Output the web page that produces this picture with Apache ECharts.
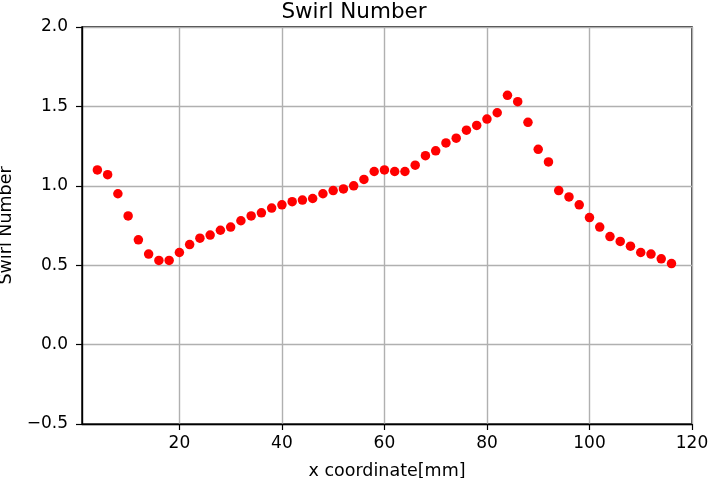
<!DOCTYPE html>
<html>
<head>
<meta charset="utf-8">
<script src="https://cdn.jsdelivr.net/npm/echarts@6/dist/echarts.min.js"></script>
<style>
html,body{margin:0;padding:0;background:#fff;}
#chart{width:708px;height:478px;}
</style>
</head>
<body>
<div id="chart"></div>
<script>
const xCoord = [4,6,8,10,12,14,16,18,20,22,24,26,28,30,32,34,36,38,40,42,44,46,48,50,52,54,56,58,60,62,64,66,68,70,72,74,76,78,80,82,84,86,88,90,92,94,96,98,100,102,104,106,108,110,112,114,116];
const swirl = [1.10,1.07,0.95,0.81,0.66,0.57,0.53,0.53,0.58,0.63,0.67,0.69,0.72,0.74,0.78,0.81,0.83,0.86,0.88,0.90,0.91,0.92,0.95,0.97,0.98,1.00,1.04,1.09,1.10,1.09,1.09,1.13,1.19,1.22,1.27,1.30,1.35,1.38,1.42,1.46,1.57,1.53,1.40,1.23,1.15,0.97,0.93,0.88,0.80,0.74,0.68,0.65,0.62,0.58,0.57,0.54,0.51];
const xTicks = [20,40,60,80,100,120];
const yTicks = [-0.5,0.0,0.5,1.0,1.5,2.0];
const titleText = 'Swirl Number';
const xName = 'x coordinate[mm]';
const yName = 'Swirl Number';

const FONT = 'DejaVu Sans';
const chart = echarts.init(document.getElementById('chart'), null, {renderer:'canvas'});
chart.setOption({
  animation:false,
  backgroundColor:'#ffffff',
  textStyle:{fontFamily:FONT},
  title:{
    text:titleText, left:'center', top:-4,
    textStyle:{fontFamily:FONT, fontSize:21.5, fontWeight:'normal', color:'#000'}
  },
  grid:{left:82, right:16, top:27, bottom:54, outerBoundsMode:'none', containLabel:false,
    show:true, borderColor:'#000', borderWidth:1.4, backgroundColor:'transparent'},
  xAxis:{
    type:'value', min:1, max:120,
    name:xName, nameLocation:'middle', nameGap:38,
    nameTextStyle:{fontFamily:FONT, fontSize:17.5, color:'#000'},
    axisLine:{show:true, onZero:false, lineStyle:{color:'#000', width:1.4}},
    axisTick:{show:true, length:6, customValues:xTicks, lineStyle:{color:'#000', width:1.2}},
    axisLabel:{customValues:xTicks, margin:11, fontFamily:FONT, fontSize:17, color:'#000'},
    splitLine:{show:true, lineStyle:{color:'#b0b0b0', width:1.4}}
  },
  yAxis:{
    type:'value', min:-0.5, max:2.0, interval:0.5,
    name:yName, nameLocation:'middle', nameGap:61,
    nameTextStyle:{fontFamily:FONT, fontSize:17.5, color:'#000'},
    axisLine:{show:true, onZero:false, lineStyle:{color:'#000', width:1.4}},
    axisTick:{show:true, length:6, lineStyle:{color:'#000', width:1.2}},
    axisLabel:{margin:14, fontFamily:FONT, fontSize:17, color:'#000',
      formatter:function(v){ return (v<0?'\u2212':'') + Math.abs(v).toFixed(1); }},
    splitLine:{show:true, lineStyle:{color:'#b0b0b0', width:1.4}}
  },
  series:[{
    type:'scatter',
    data:xCoord.map((x,i)=>[x, swirl[i]]),
    symbol:'circle', symbolSize:9.5,
    itemStyle:{color:'#ff0000', opacity:1},
    emphasis:{disabled:true}
  }]
});
</script>
</body>
</html>
